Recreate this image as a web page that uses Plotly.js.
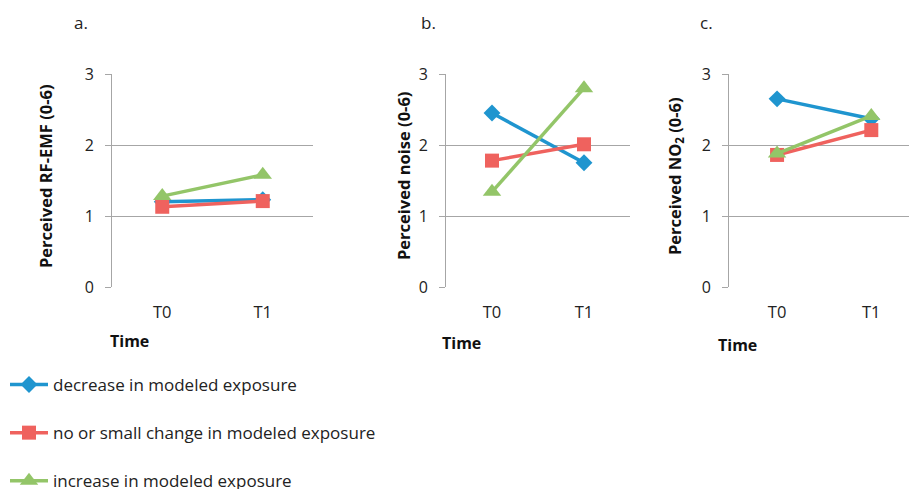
<!DOCTYPE html>
<html>
<head>
<meta charset="utf-8">
<script src="https://cdn.plot.ly/plotly-3.0.1.min.js"></script>
<style>html,body{margin:0;padding:0;overflow:hidden;background:#fff}#chart{width:909px;height:489px}</style>
</head>
<body>
<div id="chart"></div>
<script>
const times = ["T0", "T1"];
const seriesNames = ["decrease in modeled exposure", "no or small change in modeled exposure", "increase in modeled exposure"];
// Panel a: Perceived RF-EMF
const rfDecrease = [1.20, 1.23];
const rfNoChange = [1.13, 1.21];
const rfIncrease = [1.28, 1.58];
// Panel b: Perceived noise
const noiseDecrease = [2.45, 1.75];
const noiseNoChange = [1.78, 2.01];
const noiseIncrease = [1.34, 2.80];
// Panel c: Perceived NO2
const no2Decrease = [2.65, 2.37];
const no2NoChange = [1.86, 2.21];
const no2Increase = [1.88, 2.41];
const yTicks = [0, 1, 2, 3];
const panelLabels = ["a.", "b.", "c."];
const yTitles = ["Perceived RF-EMF (0-6)", "Perceived noise (0-6)", "Perceived NO<sub>2</sub> (0-6)"];
const xTitle = "Time";

const colors = ["#1f95cf", "#ef625e", "#93c568"];
const symbols = ["diamond", "square", "triangle-up"];
const msizes = [13, 14, 16];
const font = "'Open Sans', 'Noto Sans', sans-serif";

const panels = [
  [rfDecrease, rfNoChange, rfIncrease],
  [noiseDecrease, noiseNoChange, noiseIncrease],
  [no2Decrease, no2NoChange, no2Increase]
];
const W = 909, H = 489;
const xDomPx = [[112, 313], [446, 630], [729, 909]];
const xRanges = [[-0.5, 1.5], [-0.5, 1.5], [-0.51, 1.40]];
const yDom = [1 - 287 / H, 1 - 74 / H];

const data = [];
panels.forEach((p, pi) => {
  p.forEach((vals, si) => {
    data.push({
      x: times, y: vals, type: "scatter", mode: "lines+markers",
      name: seriesNames[si], legendgroup: "g" + si, showlegend: pi === 0,
      xaxis: pi === 0 ? "x" : "x" + (pi + 1), yaxis: pi === 0 ? "y" : "y" + (pi + 1),
      line: {color: colors[si], width: 3.5},
      marker: {color: colors[si], symbol: symbols[si], size: msizes[si]}
    });
  });
});

const layout = {
  width: W, height: H,
  margin: {l: 0, r: 0, t: 0, b: 0, autoexpand: false},
  paper_bgcolor: "#fff", plot_bgcolor: "#fff",
  font: {family: font, size: 16, color: "#222"},
  showlegend: true,
  legend: {x: 5 / W, y: 1 - 367 / H, xanchor: "left", yanchor: "top", orientation: "v",
    traceorder: "grouped", tracegroupgap: 23, itemwidth: 38,
    font: {family: font, size: 17, color: "#222"},
    bgcolor: "rgba(0,0,0,0)"},
  annotations: []
};
const labelX = [72, 419, 698];
const titleX = [45, 403, 675];
const timeX = [108, 440, 716];
const timeY = [341, 343, 345];
panels.forEach((p, pi) => {
  const sx = pi === 0 ? "" : String(pi + 1);
  layout["xaxis" + sx] = {
    domain: [xDomPx[pi][0] / W, xDomPx[pi][1] / W], anchor: "y" + sx,
    type: "category", range: xRanges[pi], showgrid: false, zeroline: false,
    showline: false, ticks: "", ticklabelstandoff: 13,
    tickfont: {family: font, size: 16.5, color: "#222"}, fixedrange: true
  };
  layout["yaxis" + sx] = {
    domain: yDom, anchor: "x" + sx, range: [0, 3], tickvals: yTicks,
    showgrid: true, gridcolor: "#a6a6a6", gridwidth: 1, zeroline: false,
    showline: true, linecolor: "#a6a6a6", linewidth: 1,
    ticks: "outside", ticklen: 6, tickcolor: "#a6a6a6", ticklabelstandoff: 8,
    tickfont: {family: font, size: 16, color: "#222"}, fixedrange: true
  };
  layout.annotations.push({text: panelLabels[pi], xref: "paper", yref: "paper",
    x: labelX[pi] / W, y: 1 - 22 / H, xanchor: "left", yanchor: "middle", showarrow: false,
    font: {family: font, size: 17, color: "#222"}});
  layout.annotations.push({text: "<b>" + yTitles[pi] + "</b>", xref: "paper", yref: "paper",
    x: titleX[pi] / W, y: 1 - 176 / H, xanchor: "center", yanchor: "middle", textangle: -90,
    showarrow: false, font: {family: font, size: 16.5, color: "#111"}});
  layout.annotations.push({text: "<b>" + xTitle + "</b>", xref: "paper", yref: "paper",
    x: timeX[pi] / W, y: 1 - timeY[pi] / H, xanchor: "left", yanchor: "middle",
    showarrow: false, font: {family: font, size: 16, color: "#111"}});
});
Plotly.newPlot("chart", data, layout, {displayModeBar: false, staticPlot: true});
</script>
</body>
</html>
